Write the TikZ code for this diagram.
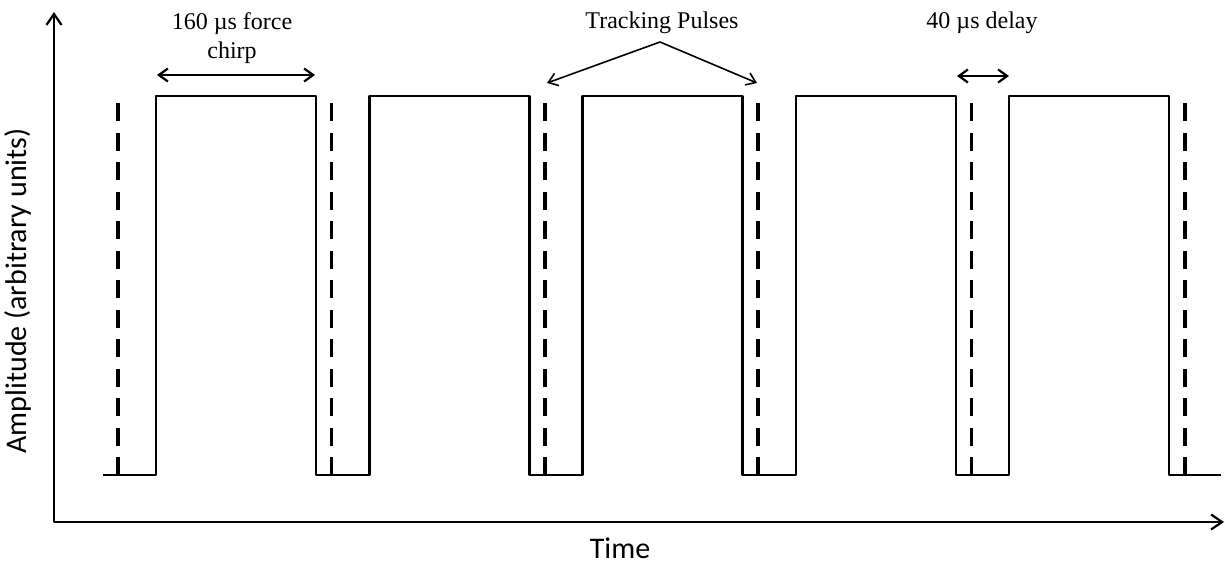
\documentclass[tikz,border=0pt]{standalone}
\usepackage{fontspec}
\setmainfont{Liberation Serif}
\newfontfamily\axisfont{Carlito}
\usetikzlibrary{arrows.meta}
\begin{document}
\begin{tikzpicture}[x=1pt,y=-1pt,
  wave/.style={line width=2.4pt, line join=round},
  marker/.style={line width=3.5pt, dash pattern=on 18pt off 11.5pt},
  axis/.style={line width=2.2pt, line join=round,
    {Straight Barb[length=11pt,width=15pt,line width=2.2pt]}-{Straight Barb[length=11pt,width=15pt,line width=2.2pt]}},
  span/.style={line width=2.2pt,
    {Straight Barb[length=9pt,width=13pt,line width=2.2pt]}-{Straight Barb[length=9pt,width=13pt,line width=2.2pt]}},
  pointer/.style={line width=1.6pt, -{Straight Barb[length=9pt,width=13pt,line width=1.6pt]}},
  serif label/.style={font=\fontsize{24}{29}\selectfont, inner sep=0pt, align=center},
  axis label/.style={font=\axisfont\fontsize{30}{36}\selectfont, inner sep=0pt}]
\useasboundingbox (0,0) rectangle (1225,565);

% axes
\coordinate (ytop) at (54,12);
\coordinate (origin) at (54,522);
\coordinate (xend) at (1224,522);
\draw[axis] (ytop) -- (origin) -- (xend);

% force chirps: square pulses on a common baseline
\def\base{475}
\def\top{96}
\draw[wave] (103,\base)
  \foreach \r/\f in {156/316, 369.3/529.3, 582.6/742.6, 795.9/955.9, 1009.2/1169.2}{
    -- (\r,\base) -- (\r,\top) -- (\f,\top) -- (\f,\base)
  } -- (1221,\base);

% tracking pulses: dashed markers
\foreach \x in {118, 331.4, 544.8, 758.2, 971.6, 1185}{
  \draw[marker] (\x,\base) -- (\x,103);
}

% chirp duration
\node[serif label] (chirp) at (232,38) {160 µs force\\chirp};
\coordinate (chirpL) at (157,75);
\coordinate (chirpR) at (315,75);
\draw[span] (chirpL) -- (chirpR);

% tracking pulses callout
\node[serif label] (track) at (662,23) {Tracking Pulses};
\coordinate (apex) at (660,42);
\coordinate (tpL) at (547,83);
\coordinate (tpR) at (757,83);
\draw[pointer] (apex) -- (tpL);
\draw[pointer] (apex) -- (tpR);

% delay between chirps
\node[serif label] (delay) at (982,23) {40 µs delay};
\coordinate (delayL) at (957,76);
\coordinate (delayR) at (1009,76);
\draw[span] (delayL) -- (delayR);

% axis labels
\node[axis label] (time) at (620,548) {Time};
\node[axis label, rotate=90] (amp) at (18,291) {Amplitude (arbitrary units)};
\end{tikzpicture}
\end{document}
